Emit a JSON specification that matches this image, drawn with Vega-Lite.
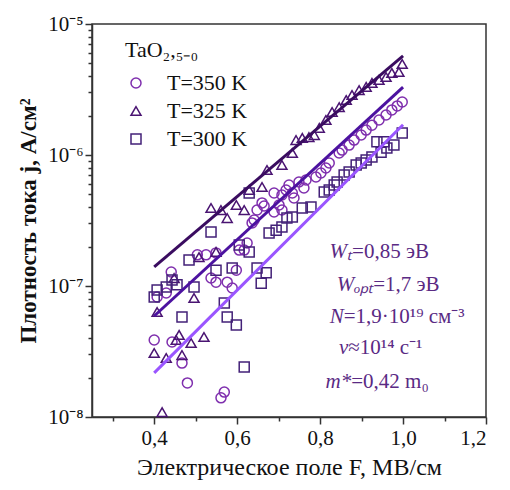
{
  "$schema": "https://vega.github.io/schema/vega-lite/v6.json",
  "width": 394,
  "height": 393,
  "autosize": "none",
  "padding": {"left": 92, "top": 24, "right": 24, "bottom": 73},
  "config": {
    "font": "Liberation Serif",
    "view": {"stroke": "#333333", "strokeWidth": 1.5},
    "text": {"font": "Liberation Serif"},
    "legend": {"labelFont": "Liberation Serif", "titleFont": "Liberation Serif"},
    "axis": {"domainColor": "#333333", "domainWidth": 1.5, "tickColor": "#333333", "tickWidth": 1.5, "labelColor": "#111111", "titleColor": "#111111", "labelFont": "Liberation Serif", "titleFont": "Liberation Serif", "grid": false}
  },
  "datasets": {
    "pts": [
      {"F":0.400,"j":3.87e-8,"T":"T=350 K"},{"F":0.407,"j":8.25e-8,"T":"T=350 K"},{"F":0.429,"j":8.85e-8,"T":"T=350 K"},{"F":0.441,"j":1.28e-7,"T":"T=350 K"},{"F":0.443,"j":3.74e-8,"T":"T=350 K"},{"F":0.467,"j":2.58e-8,"T":"T=350 K"},{"F":0.480,"j":1.82e-8,"T":"T=350 K"},{"F":0.561,"j":1.40e-8,"T":"T=350 K"},{"F":0.569,"j":1.55e-8,"T":"T=350 K"},{"F":0.504,"j":1.73e-7,"T":"T=350 K"},{"F":0.525,"j":1.73e-7,"T":"T=350 K"},{"F":0.549,"j":1.79e-7,"T":"T=350 K"},{"F":0.537,"j":1.15e-7,"T":"T=350 K"},{"F":0.549,"j":1.07e-7,"T":"T=350 K"},{"F":0.576,"j":1.07e-7,"T":"T=350 K"},{"F":0.588,"j":9.66e-8,"T":"T=350 K"},{"F":0.598,"j":1.32e-7,"T":"T=350 K"},{"F":0.605,"j":1.88e-7,"T":"T=350 K"},{"F":0.617,"j":1.88e-7,"T":"T=350 K"},{"F":0.624,"j":2.13e-7,"T":"T=350 K"},{"F":0.636,"j":3.03e-7,"T":"T=350 K"},{"F":0.641,"j":3.19e-7,"T":"T=350 K"},{"F":0.648,"j":3.80e-7,"T":"T=350 K"},{"F":0.665,"j":4.08e-7,"T":"T=350 K"},{"F":0.660,"j":4.31e-7,"T":"T=350 K"},{"F":0.689,"j":3.67e-7,"T":"T=350 K"},{"F":0.689,"j":5.13e-7,"T":"T=350 K"},{"F":0.701,"j":4.15e-7,"T":"T=350 K"},{"F":0.708,"j":3.80e-7,"T":"T=350 K"},{"F":0.708,"j":4.95e-7,"T":"T=350 K"},{"F":0.718,"j":5.41e-7,"T":"T=350 K"},{"F":0.725,"j":5.90e-7,"T":"T=350 K"},{"F":0.733,"j":5.13e-7,"T":"T=350 K"},{"F":0.737,"j":4.70e-7,"T":"T=350 K"},{"F":0.749,"j":6.22e-7,"T":"T=350 K"},{"F":0.761,"j":5.60e-7,"T":"T=350 K"},{"F":0.766,"j":6.45e-7,"T":"T=350 K"},{"F":0.790,"j":6.80e-7,"T":"T=350 K"},{"F":0.802,"j":7.29e-7,"T":"T=350 K"},{"F":0.814,"j":7.96e-7,"T":"T=350 K"},{"F":0.822,"j":8.69e-7,"T":"T=350 K"},{"F":0.846,"j":1.035e-6,"T":"T=350 K"},{"F":0.853,"j":1.09e-6,"T":"T=350 K"},{"F":0.870,"j":1.19e-6,"T":"T=350 K"},{"F":0.882,"j":1.30e-6,"T":"T=350 K"},{"F":0.899,"j":1.42e-6,"T":"T=350 K"},{"F":0.911,"j":1.55e-6,"T":"T=350 K"},{"F":0.925,"j":1.69e-6,"T":"T=350 K"},{"F":0.942,"j":1.85e-6,"T":"T=350 K"},{"F":0.959,"j":2.02e-6,"T":"T=350 K"},{"F":0.973,"j":2.21e-6,"T":"T=350 K"},{"F":0.986,"j":2.37e-6,"T":"T=350 K"},{"F":0.998,"j":2.54e-6,"T":"T=350 K"},
      {"F":0.419,"j":1.09e-8,"T":"T=325 K"},{"F":0.400,"j":3.08e-8,"T":"T=325 K"},{"F":0.429,"j":2.82e-8,"T":"T=325 K"},{"F":0.467,"j":2.97e-8,"T":"T=325 K"},{"F":0.453,"j":3.87e-8,"T":"T=325 K"},{"F":0.460,"j":4.23e-8,"T":"T=325 K"},{"F":0.489,"j":3.67e-8,"T":"T=325 K"},{"F":0.520,"j":4.08e-8,"T":"T=325 K"},{"F":0.407,"j":6.33e-8,"T":"T=325 K"},{"F":0.496,"j":8.10e-8,"T":"T=325 K"},{"F":0.448,"j":1.15e-7,"T":"T=325 K"},{"F":0.508,"j":1.66e-7,"T":"T=325 K"},{"F":0.549,"j":1.82e-7,"T":"T=325 K"},{"F":0.537,"j":3.94e-7,"T":"T=325 K"},{"F":0.561,"j":3.80e-7,"T":"T=325 K"},{"F":0.576,"j":3.30e-7,"T":"T=325 K"},{"F":0.598,"j":4.15e-7,"T":"T=325 K"},{"F":0.617,"j":3.80e-7,"T":"T=325 K"},{"F":0.629,"j":5.41e-7,"T":"T=325 K"},{"F":0.660,"j":5.70e-7,"T":"T=325 K"},{"F":0.672,"j":7.68e-7,"T":"T=325 K"},{"F":0.708,"j":8.39e-7,"T":"T=325 K"},{"F":0.733,"j":1.035e-6,"T":"T=325 K"},{"F":0.742,"j":1.30e-6,"T":"T=325 K"},{"F":0.757,"j":1.35e-6,"T":"T=325 K"},{"F":0.773,"j":1.37e-6,"T":"T=325 K"},{"F":0.786,"j":1.42e-6,"T":"T=325 K"},{"F":0.798,"j":1.61e-6,"T":"T=325 K"},{"F":0.814,"j":1.85e-6,"T":"T=325 K"},{"F":0.829,"j":2.13e-6,"T":"T=325 K"},{"F":0.846,"j":2.32e-6,"T":"T=325 K"},{"F":0.863,"j":2.63e-6,"T":"T=325 K"},{"F":0.877,"j":2.87e-6,"T":"T=325 K"},{"F":0.894,"j":3.13e-6,"T":"T=325 K"},{"F":0.911,"j":3.31e-6,"T":"T=325 K"},{"F":0.925,"j":3.55e-6,"T":"T=325 K"},{"F":0.942,"j":3.74e-6,"T":"T=325 K"},{"F":0.959,"j":3.94e-6,"T":"T=325 K"},{"F":0.973,"j":4.23e-6,"T":"T=325 K"},{"F":0.990,"j":4.30e-6,"T":"T=325 K"},{"F":0.998,"j":4.95e-6,"T":"T=325 K"},
      {"F":0.400,"j":8.25e-8,"T":"T=300 K"},{"F":0.407,"j":9.31e-8,"T":"T=300 K"},{"F":0.429,"j":9.82e-8,"T":"T=300 K"},{"F":0.443,"j":1.11e-7,"T":"T=300 K"},{"F":0.455,"j":1.02e-7,"T":"T=300 K"},{"F":0.467,"j":5.80e-8,"T":"T=300 K"},{"F":0.484,"j":1.58e-7,"T":"T=300 K"},{"F":0.496,"j":9.82e-8,"T":"T=300 K"},{"F":0.549,"j":1.32e-7,"T":"T=300 K"},{"F":0.537,"j":2.58e-7,"T":"T=300 K"},{"F":0.569,"j":7.41e-8,"T":"T=300 K"},{"F":0.576,"j":5.80e-8,"T":"T=300 K"},{"F":0.598,"j":5.04e-8,"T":"T=300 K"},{"F":0.617,"j":2.41e-8,"T":"T=300 K"},{"F":0.588,"j":1.37e-7,"T":"T=300 K"},{"F":0.605,"j":2.06e-7,"T":"T=300 K"},{"F":0.629,"j":1.82e-7,"T":"T=300 K"},{"F":0.648,"j":1.37e-7,"T":"T=300 K"},{"F":0.658,"j":1.05e-7,"T":"T=300 K"},{"F":0.670,"j":1.26e-7,"T":"T=300 K"},{"F":0.629,"j":5.13e-7,"T":"T=300 K"},{"F":0.677,"j":2.54e-7,"T":"T=300 K"},{"F":0.694,"j":2.67e-7,"T":"T=300 K"},{"F":0.708,"j":2.82e-7,"T":"T=300 K"},{"F":0.720,"j":3.30e-7,"T":"T=300 K"},{"F":0.733,"j":3.36e-7,"T":"T=300 K"},{"F":0.757,"j":3.94e-7,"T":"T=300 K"},{"F":0.778,"j":4.01e-7,"T":"T=300 K"},{"F":0.810,"j":5.22e-7,"T":"T=300 K"},{"F":0.822,"j":5.41e-7,"T":"T=300 K"},{"F":0.834,"j":5.90e-7,"T":"T=300 K"},{"F":0.841,"j":6.22e-7,"T":"T=300 K"},{"F":0.858,"j":7.04e-7,"T":"T=300 K"},{"F":0.870,"j":7.41e-7,"T":"T=300 K"},{"F":0.887,"j":8.39e-7,"T":"T=300 K"},{"F":0.899,"j":8.69e-7,"T":"T=300 K"},{"F":0.911,"j":9.16e-7,"T":"T=300 K"},{"F":0.925,"j":9.66e-7,"T":"T=300 K"},{"F":0.947,"j":1.05e-6,"T":"T=300 K"},{"F":0.961,"j":1.13e-6,"T":"T=300 K"},{"F":0.978,"j":1.19e-6,"T":"T=300 K"},{"F":0.937,"j":1.26e-6,"T":"T=300 K"},{"F":0.954,"j":1.26e-6,"T":"T=300 K"},{"F":0.998,"j":1.47e-6,"T":"T=300 K"}
    ],
    "lines": [
      {"F":0.4,"j":5.9e-8,"T":"T=350 K"},{"F":1.0,"j":3.3e-6,"T":"T=350 K"},
      {"F":0.4,"j":1.4e-7,"T":"T=325 K"},{"F":1.0,"j":5.7e-6,"T":"T=325 K"},
      {"F":0.4,"j":2.17e-8,"T":"T=300 K"},{"F":1.0,"j":1.7e-6,"T":"T=300 K"}
    ],
    "notes": [
      {"F":0.877,"j":1.82e-7,"part":"var","s":"Wₜ"},{"F":0.877,"j":1.82e-7,"part":"rest","s":"=0,85 эВ"},
      {"F":0.928,"j":1.02e-7,"part":"var","s":"Wₒₚₜ"},{"F":0.928,"j":1.02e-7,"part":"rest","s":"=1,7 эВ"},
      {"F":0.857,"j":5.8e-8,"part":"var","s":"N"},{"F":0.857,"j":5.8e-8,"part":"rest","s":"=1,9·10¹⁹ см⁻³"},
      {"F":0.868,"j":3.36e-8,"part":"var","s":"ν"},{"F":0.868,"j":3.36e-8,"part":"rest","s":"≈10¹⁴ с⁻¹"},
      {"F":0.875,"j":1.85e-8,"part":"var","s":"m*"},{"F":0.875,"j":1.85e-8,"part":"rest","s":"=0,42 m₀"}
    ]
  },
  "layer": [
    {
      "data": {"name": "pts"},
      "mark": {"type": "point", "filled": false, "strokeWidth": 1.5, "size": 100, "opacity": 1},
      "encoding": {
        "x": {"field": "F", "type": "quantitative", "scale": {"domain": [0.25, 1.2], "nice": false, "zero": false},
              "axis": {"orient": "bottom", "values": [0.3, 0.5, 0.7, 0.9, 1.1], "labels": false, "tickSize": 4, "title": null, "domain": false}},
        "y": {"field": "j", "type": "quantitative", "scale": {"type": "log", "domain": [1e-8, 1e-5], "nice": false},
              "axis": {"orient": "left", "values": [2e-8,3e-8,4e-8,5e-8,6e-8,7e-8,8e-8,9e-8,2e-7,3e-7,4e-7,5e-7,6e-7,7e-7,8e-7,9e-7,2e-6,3e-6,4e-6,5e-6,6e-6,7e-6,8e-6,9e-6], "labels": false, "tickSize": 4, "title": null, "domain": false}},
        "color": {"field": "T", "type": "nominal",
                  "scale": {"domain": ["T=350 K", "T=325 K", "T=300 K"], "range": ["#7f2fae", "#4a1472", "#432178"]},
                  "legend": {"orient": "none", "legendX": 33, "legendY": 16, "title": "TaO₂,₅₋₀", "titleFontSize": 22, "titleFontWeight": "normal", "titleFont": "Liberation Serif", "titleColor": "#111111", "labelFontSize": 22, "labelFont": "Liberation Serif", "labelColor": "#111111", "symbolSize": 100, "symbolStrokeWidth": 1.5, "rowPadding": 6, "labelOffset": 20, "titlePadding": 10}},
        "shape": {"field": "T", "type": "nominal",
                  "scale": {"domain": ["T=350 K", "T=325 K", "T=300 K"], "range": ["circle", "triangle-up", "square"]},
                  "legend": {"orient": "none", "legendX": 33, "legendY": 16, "title": "TaO₂,₅₋₀", "titleFontSize": 22, "titleFontWeight": "normal", "titleFont": "Liberation Serif", "titleColor": "#111111", "labelFontSize": 22, "labelFont": "Liberation Serif", "labelColor": "#111111", "symbolSize": 100, "symbolStrokeWidth": 1.5, "rowPadding": 6, "labelOffset": 20, "titlePadding": 10}}
      }
    },
    {
      "data": {"name": "lines"},
      "transform": [{"filter": "datum.T === 'T=325 K'"}],
      "mark": {"type": "line", "color": "#3a0c60", "strokeWidth": 3},
      "encoding": {
        "x": {"field": "F", "type": "quantitative",
              "axis": {"orient": "bottom", "values": [0.4, 0.6, 0.8, 1.0, 1.2], "tickSize": 7, "labelExpr": "replace(format(datum.value, '.1f'), '.', ',')", "labelFontSize": 21, "labelPadding": 3, "title": "Электрическое поле F, МВ/см", "titleFontSize": 24, "titleFontWeight": "normal", "titlePadding": 7}},
        "y": {"field": "j", "type": "quantitative",
              "axis": {"orient": "left", "values": [1e-8, 1e-7, 1e-6, 1e-5], "tickSize": 7, "labelExpr": "datum.value < 5e-8 ? '10⁻⁸' : datum.value < 5e-7 ? '10⁻⁷' : datum.value < 5e-6 ? '10⁻⁶' : '10⁻⁵'", "labelFontSize": 21, "labelPadding": 2, "title": "Плотность тока j, А/см²", "titleFontSize": 23, "titleFontWeight": "bold", "titlePadding": 7}}
      }
    },
    {
      "data": {"name": "lines"},
      "transform": [{"filter": "datum.T === 'T=350 K'"}],
      "mark": {"type": "line", "color": "#4c12a0", "strokeWidth": 3},
      "encoding": {
        "x": {"field": "F", "type": "quantitative", "axis": null},
        "y": {"field": "j", "type": "quantitative", "axis": null}
      }
    },
    {
      "data": {"name": "lines"},
      "transform": [{"filter": "datum.T === 'T=300 K'"}],
      "mark": {"type": "line", "color": "#9a55ff", "strokeWidth": 3},
      "encoding": {
        "x": {"field": "F", "type": "quantitative", "axis": null},
        "y": {"field": "j", "type": "quantitative", "axis": null}
      }
    },
    {
      "data": {"name": "notes"},
      "transform": [{"filter": "datum.part === 'var'"}],
      "mark": {"type": "text", "align": "right", "baseline": "middle", "fontSize": 21, "fontStyle": "italic", "font": "Liberation Serif", "color": "#5a2a84"},
      "encoding": {
        "x": {"field": "F", "type": "quantitative", "axis": null},
        "y": {"field": "j", "type": "quantitative", "axis": null},
        "text": {"field": "s"}
      }
    },
    {
      "data": {"name": "notes"},
      "transform": [{"filter": "datum.part === 'rest'"}],
      "mark": {"type": "text", "align": "left", "baseline": "middle", "fontSize": 21, "font": "Liberation Serif", "color": "#5a2a84"},
      "encoding": {
        "x": {"field": "F", "type": "quantitative", "axis": null},
        "y": {"field": "j", "type": "quantitative", "axis": null},
        "text": {"field": "s"}
      }
    }
  ],
  "resolve": {"axis": {"x": "independent", "y": "independent"}}
}
